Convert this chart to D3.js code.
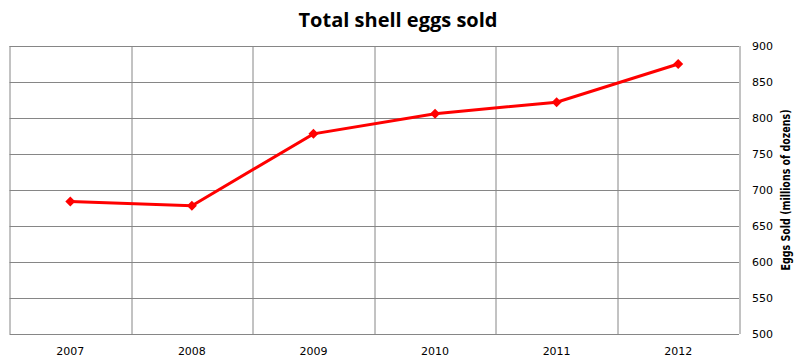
<!DOCTYPE html>
<meta charset="utf-8">
<style>
body { margin: 0; background: #fff; }
.tick text { font: 11px "DejaVu Sans", sans-serif; fill: #000; }
.grid line { stroke: #868686; stroke-width: 1px; }
.line { fill: none; stroke: #ff0000; stroke-width: 3px; }
</style>
<body>
<script src="https://d3js.org/d3.v7.min.js"></script>
<script>

// chart data
var years = ["2007", "2008", "2009", "2010", "2011", "2012"];
var eggsSold = [684, 678, 778, 806, 822, 875];
var yTicks = [500, 550, 600, 650, 700, 750, 800, 850, 900];

var margin = {top: 46, right: 64, bottom: 27, left: 9.5},
    width = 803 - margin.left - margin.right,
    height = 361 - margin.top - margin.bottom;

var svg = d3.select("body").append("svg")
    .attr("width", 803)
    .attr("height", 361);

svg.append("text")
    .attr("x", 398)
    .attr("y", 27)
    .attr("text-anchor", "middle")
    .style("font", "bold 20px 'Open Sans', sans-serif")
    .text("Total shell eggs sold");

var g = svg.append("g")
    .attr("transform", "translate(" + margin.left + "," + margin.top + ")");

var x = d3.scaleBand().domain(years).range([0, width]);
var y = d3.scaleLinear().domain([500, 900]).range([height, 0]);

// horizontal grid
g.append("g").attr("class", "grid")
  .selectAll("line").data(yTicks).enter().append("line")
    .attr("x1", 0).attr("x2", width)
    .attr("y1", function(d) { return Math.round(y(d)) + 0.5; })
    .attr("y2", function(d) { return Math.round(y(d)) + 0.5; });

// vertical grid at band edges
var edges = years.map(function(d) { return x(d); }).concat([width]);
g.append("g").attr("class", "grid")
  .selectAll("line").data(edges).enter().append("line")
    .attr("y1", 0).attr("y2", height)
    .attr("x1", function(d) { return Math.round(d) + 0.5; })
    .attr("x2", function(d) { return Math.round(d) + 0.5; });

// right axis labels
var yAxis = d3.axisRight(y).tickValues(yTicks).tickSize(0).tickPadding(13);
g.append("g")
    .attr("transform", "translate(" + width + ",0)")
    .call(yAxis)
    .call(function(s) { s.select(".domain").remove(); });

// bottom axis labels
var xAxis = d3.axisBottom(x).tickSize(0).tickPadding(13);
g.append("g")
    .attr("transform", "translate(0," + height + ")")
    .call(xAxis)
    .call(function(s) { s.select(".domain").remove(); });

svg.append("text")
    .attr("transform", "translate(790,190) rotate(-90)")
    .attr("text-anchor", "middle")
    .attr("textLength", 161)
    .attr("lengthAdjust", "spacingAndGlyphs")
    .style("font", "bold 12px 'DejaVu Sans Condensed', sans-serif")
    .text("Eggs Sold (millions of dozens)");

var line = d3.line()
    .x(function(d, i) { return x(years[i]) + x.bandwidth() / 2; })
    .y(function(d) { return y(d); });

g.append("path")
    .attr("class", "line")
    .attr("d", line(eggsSold));

g.selectAll(".pt").data(eggsSold).enter().append("path")
    .attr("class", "pt")
    .attr("fill", "#ff0000")
    .attr("d", d3.symbol().type(d3.symbolSquare).size(50))
    .attr("transform", function(d, i) {
      return "translate(" + (x(years[i]) + x.bandwidth() / 2) + "," + y(d) + ") rotate(45)";
    });

</script>
</body>
